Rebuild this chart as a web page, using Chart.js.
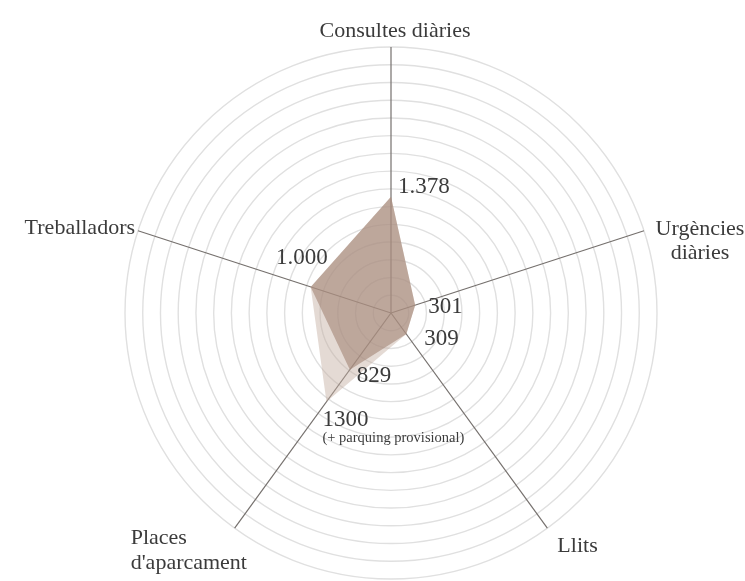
<html>
<head>
  <meta charset="UTF-8">
  <title>Hospital</title>
  <script src="https://cdn.jsdelivr.net/npm/chart.js"></script>
  <style>
    body { margin: 0; background: #fff; }
  </style>
</head>
<body>
  <canvas id="myChart" width="745" height="581"></canvas>
  <script>
    // Dades
    const categories = ['Consultes diàries', ['Urgències', 'diàries'], 'Llits', ['Places', "d'aparcament"], 'Treballadors'];
    const valorsActuals = [1378, 301, 309, 829, 1000];
    const valorsProvisional = [1378, 301, 309, 1300, 1000];
    const etiquetesValors = ['1.378', '301', '309', '829', '1.000'];
    const etiquetaProvisional = ['1300', '(+ parquing provisional)'];
    const escalaMax = 3150;
    const escalaPas = 210;

    // Posició de les etiquetes (respecte del final de cada eix)
    const posCategories = [
      { dx: 4, dy: -16, align: 'center', lh: 24 },
      { dx: 56, dy: -2, align: 'center', lh: 24 },
      { dx: 10, dy: 18, align: 'left', lh: 24 },
      { dx: -104, dy: 10, align: 'left', lh: 25 },
      { dx: -3, dy: -3, align: 'right', lh: 24 }
    ];
    // Posició de les etiquetes de valor (respecte del vèrtex)
    const posValors = [
      { dx: 7, dy: -10, align: 'left' },
      { dx: 13, dy: 2, align: 'left' },
      { dx: 18, dy: 5, align: 'left' },
      { dx: 7, dy: 6, align: 'left' },
      { dx: 17, dy: -29, align: 'right' }
    ];

    const textColor = '#3b3b3b';
    const serif = '"Liberation Serif", "DejaVu Serif", serif';

    const etiquetes = {
      id: 'etiquetes',
      afterDraw(chart) {
        const ctx = chart.ctx;
        const scale = chart.scales.r;
        ctx.save();
        ctx.fillStyle = textColor;
        ctx.textBaseline = 'middle';

        // noms dels eixos
        ctx.font = '22px ' + serif;
        categories.forEach((cat, i) => {
          const p = scale.getPointPosition(i, scale.drawingArea);
          const s = posCategories[i];
          const lines = Array.isArray(cat) ? cat : [cat];
          ctx.textAlign = s.align;
          lines.forEach((line, j) => {
            ctx.fillText(line, p.x + s.dx, p.y + s.dy + j * s.lh);
          });
        });

        // valors
        ctx.font = '23px ' + serif;
        valorsActuals.forEach((v, i) => {
          const p = scale.getPointPosition(i, scale.getDistanceFromCenterForValue(v));
          const s = posValors[i];
          ctx.textAlign = s.align;
          ctx.fillText(etiquetesValors[i], p.x + s.dx, p.y + s.dy);
        });

        // aparcament amb parquing provisional
        const pp = scale.getPointPosition(3, scale.getDistanceFromCenterForValue(valorsProvisional[3]));
        ctx.textAlign = 'left';
        ctx.fillText(etiquetaProvisional[0], pp.x - 4, pp.y + 18);
        ctx.font = '14.5px ' + serif;
        ctx.fillText(etiquetaProvisional[1], pp.x - 4, pp.y + 36);
        ctx.restore();
      }
    };

    const ctx = document.getElementById('myChart').getContext('2d');
    const myChart = new Chart(ctx, {
      type: 'radar',
      data: {
        labels: categories,
        datasets: [{
          label: 'Actual',
          data: valorsActuals,
          backgroundColor: 'rgba(163, 133, 119, 0.6)',
          borderWidth: 0,
          pointRadius: 0,
          fill: true
        }, {
          label: 'Amb parquing provisional',
          data: valorsProvisional,
          backgroundColor: 'rgba(195, 172, 160, 0.45)',
          borderWidth: 0,
          pointRadius: 0,
          fill: true
        }]
      },
      options: {
        responsive: false,
        animation: false,
        layout: {
          padding: { top: 47, bottom: 2, left: 125, right: 88 }
        },
        plugins: {
          legend: { display: false },
          tooltip: { enabled: false }
        },
        scales: {
          r: {
            min: 0,
            max: escalaMax,
            ticks: { stepSize: escalaPas, display: false },
            grid: { circular: true, color: '#e0e0e0', lineWidth: 1.4 },
            angleLines: { color: '#75706d', lineWidth: 1.2 },
            pointLabels: { display: false }
          }
        }
      },
      plugins: [etiquetes]
    });
  </script>
</body>
</html>
